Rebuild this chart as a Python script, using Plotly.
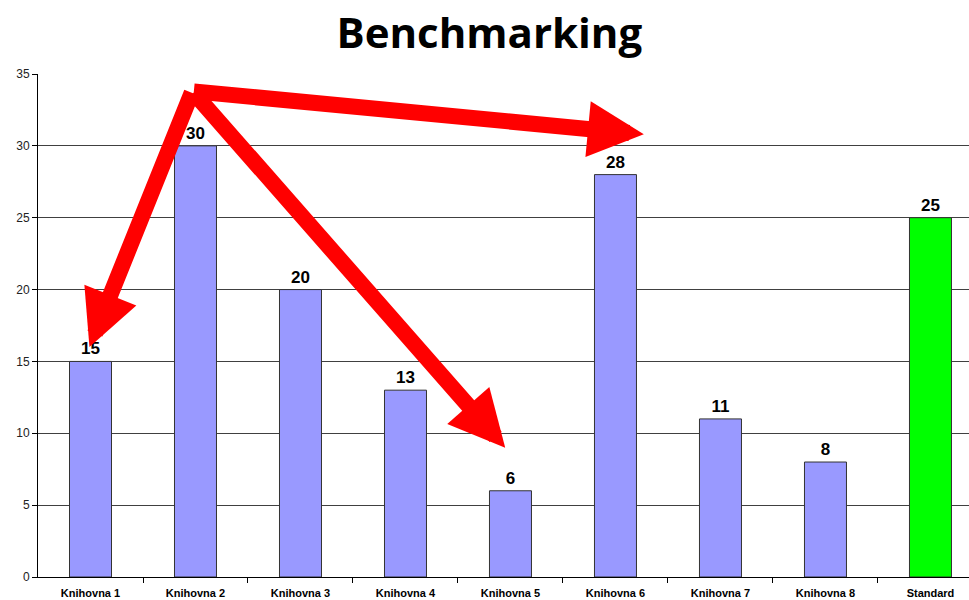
import plotly.graph_objects as go

categories = ["Knihovna 1", "Knihovna 2", "Knihovna 3", "Knihovna 4", "Knihovna 5",
              "Knihovna 6", "Knihovna 7", "Knihovna 8", "Standard"]
values = [15, 30, 20, 13, 6, 28, 11, 8, 25]
bar_colors = ["#9999FF"] * 8 + ["#00FF00"]

# arrows: origin and target points (x = category index, y = value units)
arrow_origin = (0.97, 33.8)
arrow_targets = [(-0.01, 16.0), (3.95, 9.0), (5.27, 30.8)]

fig = go.Figure()
fig.add_trace(go.Bar(
    x=list(range(len(categories))), y=values,
    marker=dict(color=bar_colors, line=dict(color="#333333", width=1)),
    width=0.4,
    text=[str(v) for v in values], textposition="outside",
    textfont=dict(family="Arial, Liberation Sans", size=17, color="black"),
    texttemplate="<b>%{text}</b>",
    cliponaxis=False,
))

for tx, ty in arrow_targets:
    fig.add_annotation(
        x=tx, y=ty, ax=arrow_origin[0], ay=arrow_origin[1],
        xref="x", yref="y", axref="x", ayref="y",
        showarrow=True, arrowhead=2, arrowwidth=16, arrowsize=0.7,
        arrowcolor="#FF0000", text="",
    )

fig.update_layout(
    width=969, height=600,
    margin=dict(l=38, r=0, t=74, b=23),
    paper_bgcolor="white", plot_bgcolor="white",
    showlegend=False,
    title=dict(text="<b>Benchmarking</b>", x=0.505, xanchor="center", y=0.944, yanchor="middle",
               font=dict(family="Open Sans", size=42, color="black")),
    bargap=0.6,
)
fig.update_xaxes(
    range=[-0.5, 8.367],
    tickmode="array", tickvals=list(range(len(categories))),
    ticktext=[f"<b>{c}</b>" for c in categories],
    tickfont=dict(family="Arial, Liberation Sans", size=11, color="black"),
    ticks="outside", ticklen=6, tickcolor="rgba(0,0,0,0)",
    showline=True, linecolor="black", linewidth=1,
    showgrid=False, zeroline=False,
)
fig.update_yaxes(
    range=[0, 35], dtick=5, tick0=0,
    tickfont=dict(family="Arial, Liberation Sans", size=12, color="#222222"),
    showline=True, linecolor="black", linewidth=1,
    ticks="outside", ticklen=5, tickcolor="black",
    showgrid=True, gridcolor="#404040", gridwidth=1,
    zeroline=False,
)

# boundary ticks on x axis
fig.add_trace(go.Scatter(x=[None], y=[None], showlegend=False, xaxis="x2"))
fig.update_layout(xaxis2=dict(overlaying="x", range=[-0.5, 8.367], tickmode="array",
                              tickvals=[i + 0.5 for i in range(len(categories))],
                              ticks="outside", ticklen=5, tickcolor="black",
                              showticklabels=False, showgrid=False, zeroline=False,
                              side="bottom"))

fig.write_html("out.html", config={"displayModeBar": False},
               post_script="document.body.style.margin='0';document.body.style.overflow='hidden';")
